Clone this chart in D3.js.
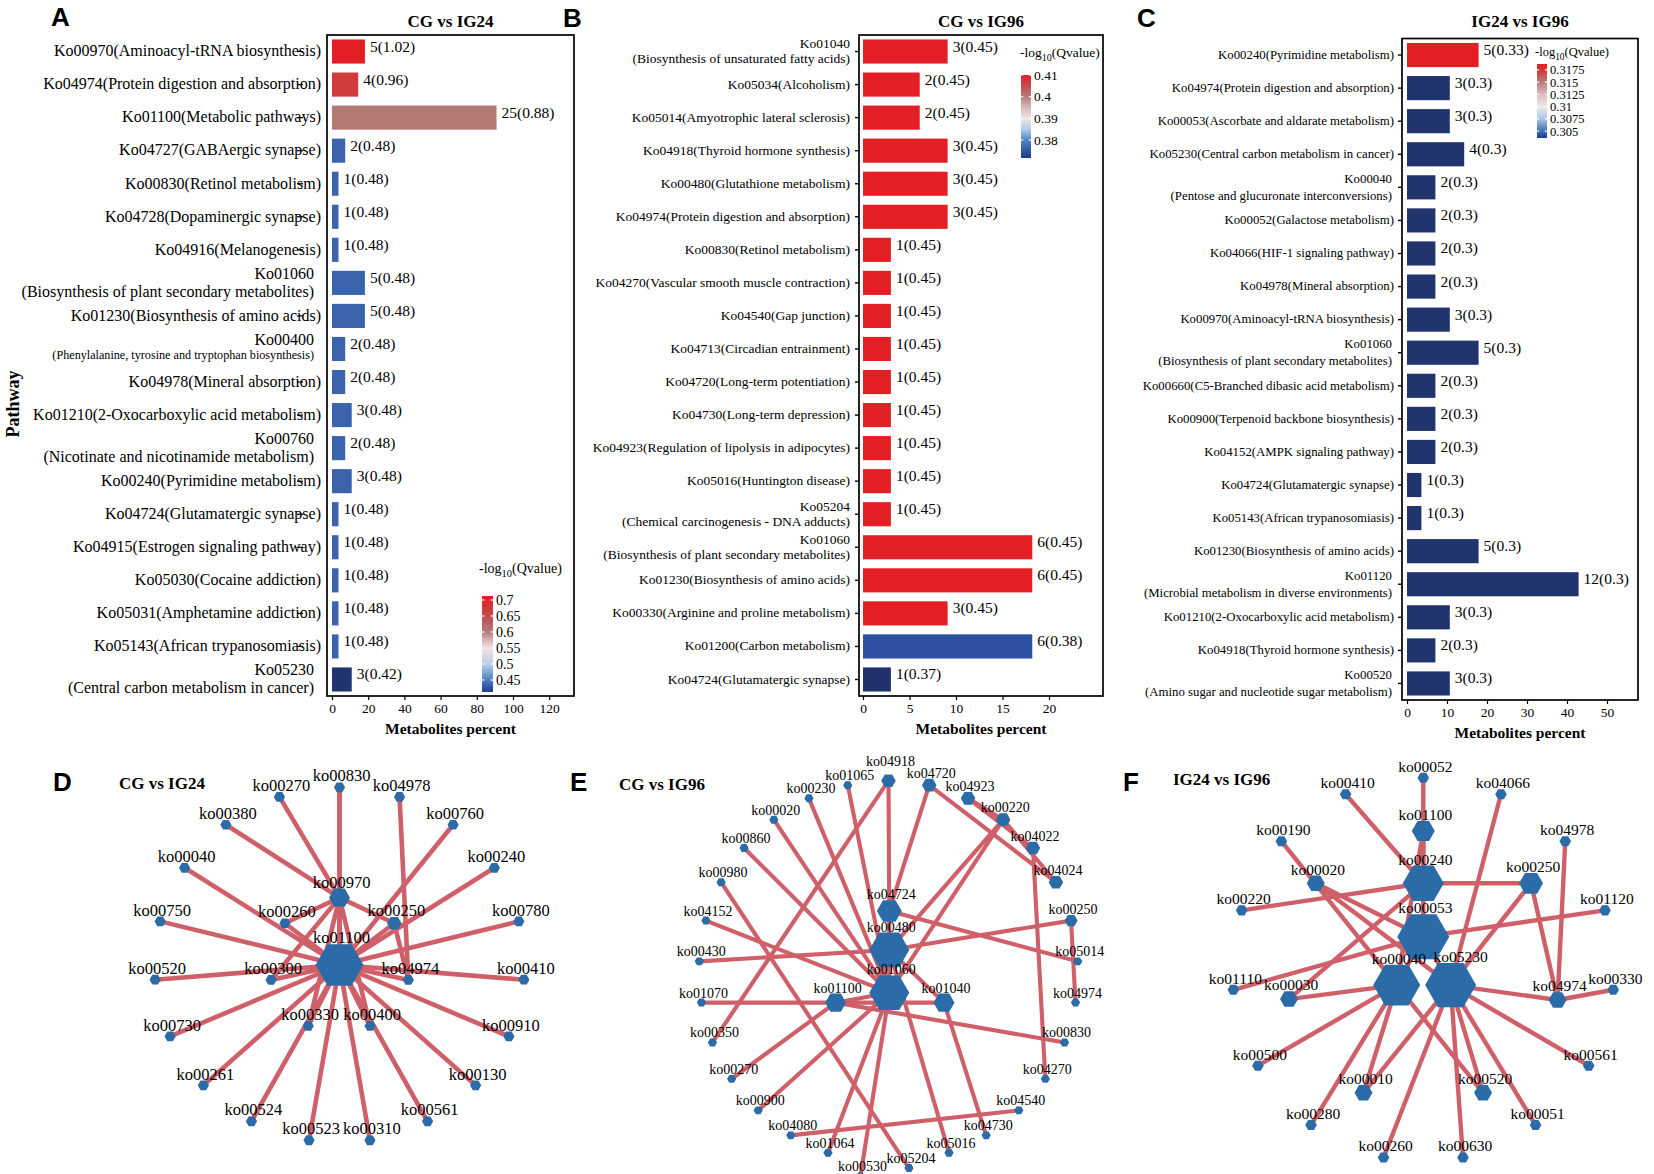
<!DOCTYPE html>
<html>
<head>
<meta charset="utf-8">
<script src="https://cdn.jsdelivr.net/npm/d3@7"></script>
<style>
  body { margin: 0; background: #fff; }
  svg { display: block; }
</style>
</head>
<body>
<script>
// ---- bar panel data ----
var pathwaysA = [
  "Ko00970(Aminoacyl-tRNA biosynthesis)", "Ko04974(Protein digestion and absorption)",
  "Ko01100(Metabolic pathways)", "Ko04727(GABAergic synapse)", "Ko00830(Retinol metabolism)",
  "Ko04728(Dopaminergic synapse)", "Ko04916(Melanogenesis)",
  "Ko01060\n(Biosynthesis of plant secondary metabolites)", "Ko01230(Biosynthesis of amino acids)",
  "Ko00400\n(Phenylalanine, tyrosine and tryptophan biosynthesis)", "Ko04978(Mineral absorption)",
  "Ko01210(2-Oxocarboxylic acid metabolism)", "Ko00760\n(Nicotinate and nicotinamide metabolism)",
  "Ko00240(Pyrimidine metabolism)", "Ko04724(Glutamatergic synapse)", "Ko04915(Estrogen signaling pathway)",
  "Ko05030(Cocaine addiction)", "Ko05031(Amphetamine addiction)", "Ko05143(African trypanosomiasis)",
  "Ko05230\n(Central carbon metabolism in cancer)"
];
var countsA  = [5, 4, 25, 2, 1, 1, 1, 5, 5, 2, 2, 3, 2, 3, 1, 1, 1, 1, 1, 3];
var percentA = [18.2, 14.5, 90.9, 7.3, 3.6, 3.6, 3.6, 18.2, 18.2, 7.3, 7.3, 10.9, 7.3, 10.9, 3.6, 3.6, 3.6, 3.6, 3.6, 10.9];
var qvalA    = [1.02, 0.96, 0.88, 0.48, 0.48, 0.48, 0.48, 0.48, 0.48, 0.48, 0.48, 0.48, 0.48, 0.48, 0.48, 0.48, 0.48, 0.48, 0.48, 0.42];

var pathwaysB = [
  "Ko01040\n(Biosynthesis of unsaturated fatty acids)", "Ko05034(Alcoholism)",
  "Ko05014(Amyotrophic lateral sclerosis)", "Ko04918(Thyroid hormone synthesis)",
  "Ko00480(Glutathione metabolism)", "Ko04974(Protein digestion and absorption)",
  "Ko00830(Retinol metabolism)", "Ko04270(Vascular smooth muscle contraction)", "Ko04540(Gap junction)",
  "Ko04713(Circadian entrainment)", "Ko04720(Long-term potentiation)", "Ko04730(Long-term depression)",
  "Ko04923(Regulation of lipolysis in adipocytes)", "Ko05016(Huntington disease)",
  "Ko05204\n(Chemical carcinogenesis - DNA adducts)", "Ko01060\n(Biosynthesis of plant secondary metabolites)",
  "Ko01230(Biosynthesis of amino acids)", "Ko00330(Arginine and proline metabolism)",
  "Ko01200(Carbon metabolism)", "Ko04724(Glutamatergic synapse)"
];
var countsB  = [3, 2, 2, 3, 3, 3, 1, 1, 1, 1, 1, 1, 1, 1, 1, 6, 6, 3, 6, 1];
var percentB = [9.1, 6.1, 6.1, 9.1, 9.1, 9.1, 3.0, 3.0, 3.0, 3.0, 3.0, 3.0, 3.0, 3.0, 3.0, 18.2, 18.2, 9.1, 18.2, 3.0];
var qvalB    = [0.45, 0.45, 0.45, 0.45, 0.45, 0.45, 0.45, 0.45, 0.45, 0.45, 0.45, 0.45, 0.45, 0.45, 0.45, 0.45, 0.45, 0.45, 0.38, 0.37];

var pathwaysC = [
  "Ko00240(Pyrimidine metabolism)", "Ko04974(Protein digestion and absorption)",
  "Ko00053(Ascorbate and aldarate metabolism)", "Ko05230(Central carbon metabolism in cancer)",
  "Ko00040\n(Pentose and glucuronate interconversions)", "Ko00052(Galactose metabolism)",
  "Ko04066(HIF-1 signaling pathway)", "Ko04978(Mineral absorption)", "Ko00970(Aminoacyl-tRNA biosynthesis)",
  "Ko01060\n(Biosynthesis of plant secondary metabolites)", "Ko00660(C5-Branched dibasic acid metabolism)",
  "Ko00900(Terpenoid backbone biosynthesis)", "Ko04152(AMPK signaling pathway)",
  "Ko04724(Glutamatergic synapse)", "Ko05143(African trypanosomiasis)", "Ko01230(Biosynthesis of amino acids)",
  "Ko01120\n(Microbial metabolism in diverse environments)", "Ko01210(2-Oxocarboxylic acid metabolism)",
  "Ko04918(Thyroid hormone synthesis)", "Ko00520\n(Amino sugar and nucleotide sugar metabolism)"
];
var countsC  = [5, 3, 3, 4, 2, 2, 2, 2, 3, 5, 2, 2, 2, 1, 1, 5, 12, 3, 2, 3];
var percentC = [17.9, 10.7, 10.7, 14.3, 7.1, 7.1, 7.1, 7.1, 10.7, 17.9, 7.1, 7.1, 7.1, 3.6, 3.6, 17.9, 42.9, 10.7, 7.1, 10.7];
var qvalC    = [0.33, 0.3, 0.3, 0.3, 0.3, 0.3, 0.3, 0.3, 0.3, 0.3, 0.3, 0.3, 0.3, 0.3, 0.3, 0.3, 0.3, 0.3, 0.3, 0.3];

var ticksA = [0, 20, 40, 60, 80, 100, 120];
var ticksB = [0, 5, 10, 15, 20];
var ticksC = [0, 10, 20, 30, 40, 50];
var legendTicksA = [0.45, 0.5, 0.55, 0.6, 0.65, 0.7];
var legendTicksB = [0.38, 0.39, 0.4, 0.41];
var legendTicksC = [0.305, 0.3075, 0.31, 0.3125, 0.315, 0.3175];

// ---- network data ----
// outer ring, clockwise from the top
var ringD = ["ko00830", "ko04978", "ko00760", "ko00240", "ko00780", "ko00410", "ko00910", "ko00130",
  "ko00561", "ko00310", "ko00523", "ko00524", "ko00261", "ko00730", "ko00520", "ko00750", "ko00040",
  "ko00380", "ko00270"];
// inner nodes: id, layout x, layout y (ring radius = 1)
var innerD = [["ko01100", 0, 0], ["ko00970", 0, -0.379], ["ko00260", -0.295, -0.235], ["ko00250", 0.296, -0.235],
  ["ko00300", -0.37, 0.084], ["ko04974", 0.372, 0.084], ["ko00330", -0.169, 0.343], ["ko00400", 0.165, 0.343]];
var edgesD = [
  ["ko01100", "ko00830"], ["ko01100", "ko00760"], ["ko01100", "ko00240"], ["ko01100", "ko00780"],
  ["ko01100", "ko00410"], ["ko01100", "ko00910"], ["ko01100", "ko00130"], ["ko01100", "ko00561"],
  ["ko01100", "ko00310"], ["ko01100", "ko00523"], ["ko01100", "ko00524"], ["ko01100", "ko00261"],
  ["ko01100", "ko00730"], ["ko01100", "ko00520"], ["ko01100", "ko00750"], ["ko01100", "ko00040"],
  ["ko01100", "ko00970"], ["ko01100", "ko00260"], ["ko01100", "ko00250"], ["ko01100", "ko00300"],
  ["ko01100", "ko04974"], ["ko01100", "ko00330"], ["ko01100", "ko00400"],
  ["ko00970", "ko00830"], ["ko00970", "ko00270"], ["ko00970", "ko00380"], ["ko00970", "ko00260"],
  ["ko00970", "ko00300"], ["ko00970", "ko00250"], ["ko00970", "ko00330"], ["ko00970", "ko00400"],
  ["ko04974", "ko04978"], ["ko04974", "ko00250"]
];

var ringE = ["ko04918", "ko04720", "ko04923", "ko00220", "ko04022", "ko04024", "ko00250", "ko05014",
  "ko04974", "ko00830", "ko04270", "ko04540", "ko04730", "ko05016", "ko05204", "ko00530", "ko01064",
  "ko04080", "ko00900", "ko00270", "ko00350", "ko01070", "ko00430", "ko04152", "ko00980", "ko00860",
  "ko00020", "ko00230", "ko01065"];
var innerE = [["ko04724", 0.004, -0.318], ["ko00480", 0.004, -0.114], ["ko01060", 0.004, 0.11],
  ["ko01100", -0.279, 0.162], ["ko01040", 0.293, 0.162]];
var edgesE = [
  ["ko04918", "ko04724"], ["ko04918", "ko00350"], ["ko01065", "ko01060"], ["ko00230", "ko01060"],
  ["ko00020", "ko01060"], ["ko00860", "ko01060"], ["ko00980", "ko05204"], ["ko04152", "ko01060"],
  ["ko00430", "ko00480"], ["ko00480", "ko00250"], ["ko01070", "ko01100"], ["ko01100", "ko01040"],
  ["ko00270", "ko01100"], ["ko00900", "ko01060"], ["ko01100", "ko00830"], ["ko04724", "ko05014"],
  ["ko04720", "ko04724"], ["ko04720", "ko04024"], ["ko04923", "ko04022"], ["ko04923", "ko00220"],
  ["ko00220", "ko04024"], ["ko00220", "ko00480"], ["ko00220", "ko01060"], ["ko04022", "ko04270"],
  ["ko00250", "ko04974"], ["ko04540", "ko04080"], ["ko01060", "ko01064"], ["ko01060", "ko00530"],
  ["ko00480", "ko05016"], ["ko01040", "ko04730"], ["ko01040", "ko00480"], ["ko01100", "ko01060"],
  ["ko04724", "ko00480"], ["ko00480", "ko01060"]
];

var ringF = ["ko00052", "ko04066", "ko04978", "ko01120", "ko00330", "ko00561", "ko00051", "ko00630",
  "ko00260", "ko00280", "ko00500", "ko01110", "ko00220", "ko00190", "ko00410"];
var innerF = [["ko01100", 0, -0.722], ["ko00240", 0, -0.45], ["ko00020", -0.563, -0.45], ["ko00250", 0.564, -0.45],
  ["ko00053", 0, -0.172], ["ko00040", -0.139, 0.08], ["ko05230", 0.143, 0.08], ["ko00030", -0.703, 0.153],
  ["ko04974", 0.703, 0.158], ["ko00010", -0.313, 0.641], ["ko00520", 0.313, 0.641]];
var edgesF = [
  ["ko00052", "ko00240"], ["ko00410", "ko00240"], ["ko04066", "ko05230"], ["ko01100", "ko00240"],
  ["ko01100", "ko00040"], ["ko00190", "ko00040"], ["ko00020", "ko00053"], ["ko00020", "ko05230"],
  ["ko00220", "ko00240"], ["ko00240", "ko00250"], ["ko00250", "ko05230"], ["ko00250", "ko04974"],
  ["ko00053", "ko01120"], ["ko01110", "ko00053"], ["ko00030", "ko00240"], ["ko00030", "ko00040"],
  ["ko00500", "ko00040"], ["ko00280", "ko00040"], ["ko00010", "ko00040"], ["ko00010", "ko05230"],
  ["ko00260", "ko05230"], ["ko00630", "ko05230"], ["ko00520", "ko05230"], ["ko00520", "ko00040"],
  ["ko00051", "ko05230"], ["ko00561", "ko05230"], ["ko05230", "ko04974"], ["ko00330", "ko04974"],
  ["ko04978", "ko04974"], ["ko00240", "ko00053"], ["ko00053", "ko00040"], ["ko00053", "ko05230"]
];

// ---- drawing ----
var svg = d3.select("body").append("svg")
  .attr("width", 1654).attr("height", 1174)
  .style("font-family", "'Liberation Serif', 'Times New Roman', serif");
var defs = svg.append("defs");

function panelLetter(t, x, y) {
  svg.append("text").attr("x", x).attr("y", y)
    .style("font-family", "'Liberation Sans', Arial, sans-serif")
    .attr("font-weight", "bold").attr("font-size", 26).text(t);
}

function barPanel(p) {
  var g = svg.append("g");
  var x = d3.scaleLinear().domain(p.xDomain).range(p.xRange);
  var y = d3.scaleBand().domain(d3.range(p.names.length)).range([p.top, p.bottom])
    .paddingInner(0.27).paddingOuter(0.135);
  var mid = function(i) { return y(i) + y.bandwidth() / 2; };

  g.selectAll(".bar").data(p.percent).join("rect")
    .attr("class", "bar")
    .attr("x", x(0))
    .attr("y", function(d, i) { return y(i); })
    .attr("width", function(d) { return x(d) - x(0); })
    .attr("height", y.bandwidth())
    .attr("fill", function(d, i) { return p.color(p.qval[i]); });

  g.selectAll(".val").data(p.percent).join("text")
    .attr("class", "val")
    .attr("x", function(d) { return x(d) + 5; })
    .attr("y", function(d, i) { return mid(i); })
    .attr("font-size", 15.5)
    .text(function(d, i) { return p.counts[i] + "(" + p.qval[i] + ")"; });

  g.selectAll(".lab").data(p.names).join("text")
    .attr("class", "lab")
    .attr("text-anchor", "end")
    .attr("font-size", p.labelSize)
    .each(function(d, i) {
      var lines = d.split("\n");
      var t = d3.select(this);
      var base = p.labelSize * 0.3;
      if (lines.length === 1) {
        t.attr("x", p.labelX).attr("y", mid(i) + base).text(d);
      } else {
        var small = lines[1].length > 50;
        t.append("tspan").attr("x", p.labelX - p.twoLineShift)
          .attr("y", mid(i) - p.lineGap + base).text(lines[0]);
        t.append("tspan").attr("x", p.labelX - p.twoLineShift)
          .attr("y", mid(i) + (small ? p.lineGap * 0.6 : p.lineGap) + base)
          .attr("font-size", small ? p.labelSize * 0.76 : null).text(lines[1]);
      }
    });

  // stray tick marks sitting inside the labels of panel A
  if (p.innerTicks) {
    g.selectAll(".itick").data(p.names.filter(function(d) { return d.indexOf("\n") < 0; })).join("line")
      .attr("x1", p.innerTicks[0]).attr("x2", p.innerTicks[1])
      .attr("y1", function(d) { return mid(p.names.indexOf(d)); })
      .attr("y2", function(d) { return mid(p.names.indexOf(d)); })
      .attr("stroke", "#000").attr("stroke-width", 1.2);
  }

  if (p.yTicks) {
    var ya = g.append("g").attr("transform", "translate(" + p.left + ",0)")
      .call(d3.axisLeft(y).tickSize(4).tickFormat(""));
    ya.select(".domain").remove();
    ya.selectAll("line").attr("stroke-width", 1.4);
  }

  var xa = g.append("g").attr("transform", "translate(0," + p.bottom + ")")
    .call(d3.axisBottom(x).tickValues(p.ticks).tickSize(4).tickPadding(3));
  xa.attr("font-family", null).attr("font-size", 13.5);
  xa.select(".domain").remove();
  xa.selectAll("line").attr("stroke-width", 1.2);

  g.append("rect")
    .attr("x", p.left).attr("y", p.top)
    .attr("width", p.right - p.left).attr("height", p.bottom - p.top)
    .attr("fill", "none").attr("stroke", "#000").attr("stroke-width", 1.7);

  g.append("text").attr("x", (p.left + p.right) / 2).attr("y", 27)
    .attr("text-anchor", "middle").attr("font-weight", "bold").attr("font-size", 17)
    .text(p.title);
  g.append("text").attr("x", (p.left + p.right) / 2).attr("y", p.bottom + 38)
    .attr("text-anchor", "middle").attr("font-weight", "bold").attr("font-size", 15.5)
    .text("Metabolites percent");
}

function colorbar(c) {
  var id = "grad" + c.id;
  var s = d3.scaleLinear().domain([c.lo, c.hi]).range([c.bottom, c.top]);
  var grad = defs.append("linearGradient").attr("id", id)
    .attr("x1", 0).attr("x2", 0).attr("y1", 1).attr("y2", 0);
  grad.selectAll("stop").data(c.stops).join("stop")
    .attr("offset", function(d) { return (d[0] - c.lo) / (c.hi - c.lo); })
    .attr("stop-color", function(d) { return d[1]; });
  var g = svg.append("g");
  g.append("rect").attr("x", c.x).attr("y", c.top).attr("width", c.w).attr("height", c.bottom - c.top)
    .attr("fill", "url(#" + id + ")");
  c.ticks.forEach(function(t) {
    [[c.x, c.x + c.w * 0.22], [c.x + c.w * 0.78, c.x + c.w]].forEach(function(seg) {
      g.append("line").attr("x1", seg[0]).attr("x2", seg[1]).attr("y1", s(t)).attr("y2", s(t))
        .attr("stroke", "#fff").attr("stroke-width", 1.2);
    });
  });
  g.selectAll(".lt").data(c.ticks).join("text")
    .attr("x", c.x + c.w + 3).attr("y", function(d) { return s(d) + c.font * 0.35; })
    .attr("font-size", c.font).text(function(d) { return d; });
  var title = g.append("text").attr("x", c.titleX).attr("y", c.titleY).attr("font-size", c.font);
  title.append("tspan").text("-log");
  title.append("tspan").attr("dy", 4).attr("font-size", c.font * 0.75).text("10");
  title.append("tspan").attr("dy", -4).text("(Qvalue)");
}

function hexPath(r) {
  var pts = d3.range(6).map(function(k) {
    return [r * Math.cos(k * Math.PI / 3), r * Math.sin(k * Math.PI / 3)];
  });
  return d3.line()(pts) + "Z";
}

function network(n) {
  var xs = d3.scaleLinear().domain([-1, 1]).range([n.cx - n.rx, n.cx + n.rx]);
  var ys = d3.scaleLinear().domain([-1, 1]).range([n.cy - n.ry, n.cy + n.ry]);
  var ang = d3.scaleLinear().domain([0, n.ring.length]).range([0, 2 * Math.PI]);
  var adjust = n.adjust || {};
  var shift = n.labelShift || {};
  var nodes = new Map();
  n.ring.forEach(function(id, i) {
    var a = adjust[id] || [0, 0];
    nodes.set(id, { id: id, u: Math.sin(ang(i)) + a[0], v: -Math.cos(ang(i)) + a[1] });
  });
  n.inner.forEach(function(d) { nodes.set(d[0], { id: d[0], u: d[1], v: d[2] }); });
  var list = Array.from(nodes.values());
  list.forEach(function(d) { d.r = n.sizes[d.id] || n.r; });

  var g = svg.append("g");
  g.selectAll(".edge").data(n.edges).join("line")
    .attr("x1", function(e) { return xs(nodes.get(e[0]).u); })
    .attr("y1", function(e) { return ys(nodes.get(e[0]).v); })
    .attr("x2", function(e) { return xs(nodes.get(e[1]).u); })
    .attr("y2", function(e) { return ys(nodes.get(e[1]).v); })
    .attr("stroke", "#cf5f68").attr("stroke-width", n.edgeW).attr("stroke-linecap", "round");

  g.selectAll(".node").data(list).join("path")
    .attr("d", function(d) { return hexPath(d.r); })
    .attr("transform", function(d) { return "translate(" + xs(d.u) + "," + ys(d.v) + ")"; })
    .attr("fill", "#2b6ba7");

  g.selectAll(".nlab").data(list).join("text")
    .attr("x", function(d) { return xs(d.u) + 2 + (shift[d.id] ? shift[d.id][0] : 0); })
    .attr("y", function(d) { return ys(d.v) - d.r * 0.866 - 1 + (shift[d.id] ? shift[d.id][1] : 0); })
    .attr("text-anchor", "middle").attr("font-size", n.font)
    .text(function(d) { return d.id; });

  svg.append("text").attr("x", n.titleX).attr("y", n.titleY)
    .attr("font-weight", "bold").attr("font-size", 17).text(n.title);
}

// ---- panels A-C ----
barPanel({
  names: pathwaysA, counts: countsA, percent: percentA, qval: qvalA, title: "CG vs IG24",
  left: 327, right: 574, top: 35, bottom: 696,
  xDomain: [0, 120], xRange: [332, 549.2], ticks: ticksA,
  labelX: 321, twoLineShift: 7, labelSize: 16, lineGap: 9, innerTicks: [297, 303],
  color: d3.scaleLinear().domain([0.42, 0.48, 0.88, 0.96, 1.02])
    .range(["#22346f", "#3c64ad", "#b27a72", "#d03b3c", "#e31e25"])
});
barPanel({
  names: pathwaysB, counts: countsB, percent: percentB, qval: qvalB, title: "CG vs IG96",
  left: 859, right: 1103, top: 35, bottom: 696,
  xDomain: [0, 20], xRange: [863, 1049], ticks: ticksB,
  labelX: 850, twoLineShift: 0, labelSize: 13.5, lineGap: 7.5, yTicks: true,
  color: d3.scaleLinear().domain([0.37, 0.38, 0.45]).range(["#22316c", "#2c4f9f", "#e31e25"])
});
barPanel({
  names: pathwaysC, counts: countsC, percent: percentC, qval: qvalC, title: "IG24 vs IG96",
  left: 1402, right: 1638, top: 38.5, bottom: 700,
  xDomain: [0, 50], xRange: [1407, 1607], ticks: ticksC,
  labelX: 1394, twoLineShift: 2, labelSize: 12.8, lineGap: 8.5, yTicks: true,
  color: d3.scaleLinear().domain([0.3, 0.33]).range(["#22346e", "#e31e25"])
});

svg.append("text").attr("transform", "translate(19,404) rotate(-90)")
  .attr("text-anchor", "middle").attr("font-weight", "bold").attr("font-size", 18).text("Pathway");

colorbar({
  id: "A", x: 482, w: 11, top: 596, bottom: 692, lo: 0.4125, hi: 0.7125, ticks: legendTicksA, font: 14,
  titleX: 479, titleY: 573,
  stops: [[0.4125, "#1f3c8e"], [0.45, "#4a80c4"], [0.5, "#b9d0e8"], [0.55, "#f2e2e2"],
    [0.575, "#d8b2b2"], [0.6, "#b27c7c"], [0.65, "#c44a4a"], [0.7125, "#e41e26"]]
});
colorbar({
  id: "B", x: 1021, w: 10, top: 75, bottom: 158, lo: 0.3717, hi: 0.41, ticks: legendTicksB, font: 13.5,
  titleX: 1020, titleY: 57,
  stops: [[0.3717, "#1f3a88"], [0.38, "#4e84c4"], [0.385, "#b5cde8"], [0.39, "#eee6e6"],
    [0.395, "#d9b7b7"], [0.4, "#b57c7c"], [0.405, "#c84a4a"], [0.41, "#e41e26"]]
});
colorbar({
  id: "C", x: 1537, w: 10, top: 64, bottom: 138, lo: 0.3036, hi: 0.3187, ticks: legendTicksC, font: 12.5,
  titleX: 1535, titleY: 56,
  stops: [[0.3036, "#1f3a88"], [0.305, "#3e6fb6"], [0.3075, "#a9c6e6"], [0.31, "#efeaea"],
    [0.3125, "#dcbcbc"], [0.315, "#b77e7e"], [0.3175, "#d43535"], [0.3187, "#e41e26"]]
});

// ---- panels D-F ----
network({
  ring: ringD, inner: innerD, edges: edgesD, cx: 339.5, cy: 965, rx: 185, ry: 177.7,
  r: 5.6, sizes: { ko01100: 24, ko00970: 10.5, ko00250: 7.3 }, font: 16.5, edgeW: 4.6,
  title: "CG vs IG24", titleX: 119, titleY: 789
});
network({
  ring: ringE, inner: innerE, edges: edgesE, cx: 888.5, cy: 971.7, rx: 189.5, ry: 191,
  r: 4.6, sizes: { ko00480: 20, ko01060: 20, ko04724: 12.5, ko01100: 10.5, ko01040: 10.5, ko04918: 7.3,
    ko04720: 7.3, ko04923: 7.3, ko00220: 7.3, ko04022: 7.3, ko04024: 7.3, ko00250: 6.5 },
  adjust: { ko05204: [0, 0.034], ko00530: [-0.04, 0.078] },
  labelShift: { ko04918: [0, -7] },
  font: 14, edgeW: 4.1, title: "CG vs IG96", titleX: 619, titleY: 790
});
network({
  ring: ringF, inner: innerF, edges: edgesF, cx: 1423.3, cy: 969.7, rx: 191, ry: 192,
  r: 5.8, sizes: { ko00053: 26, ko05230: 25.5, ko00040: 23.5, ko00240: 20.5, ko00250: 12, ko01100: 11.5,
    ko00020: 9, ko00030: 9, ko04974: 9, ko00010: 9, ko00520: 9 },
  labelShift: { ko05230: [8, 0] },
  font: 15.5, edgeW: 4.4, title: "IG24 vs IG96", titleX: 1173, titleY: 785
});

panelLetter("A", 51, 26);
panelLetter("B", 563, 27);
panelLetter("C", 1137, 27);
panelLetter("D", 53, 791);
panelLetter("E", 570, 791);
panelLetter("F", 1123, 791);
</script>
</body>
</html>
